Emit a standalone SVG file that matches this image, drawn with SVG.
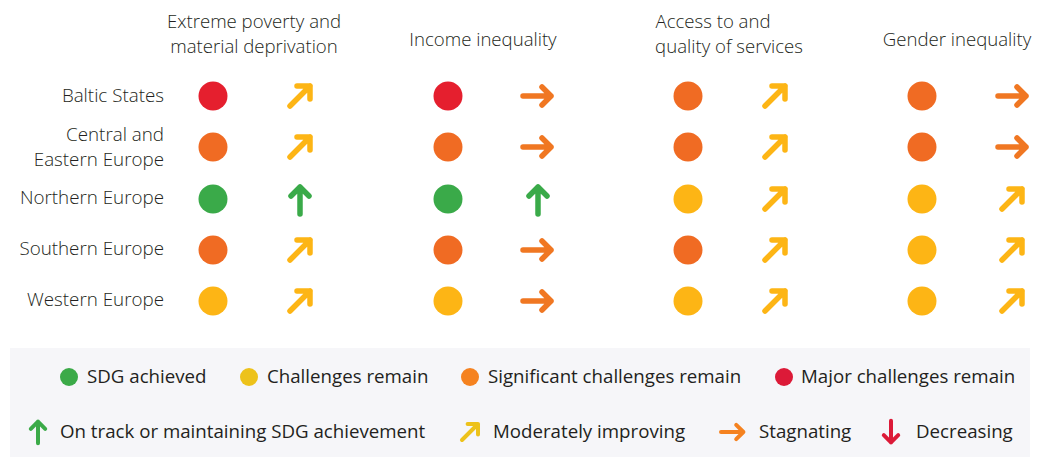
<svg xmlns="http://www.w3.org/2000/svg" xmlns:xlink="http://www.w3.org/1999/xlink" width="1040" height="457" viewBox="0 0 1040 457">
<style>
.h{font-family:"Open Sans","Liberation Sans",sans-serif;font-weight:300;font-size:18.6px;fill:#231f20;text-anchor:middle}
.r{font-family:"Open Sans","Liberation Sans",sans-serif;font-weight:300;font-size:18.8px;fill:#231f20;text-anchor:end}
.l{font-family:"Open Sans","Liberation Sans",sans-serif;font-size:18.7px;fill:#231f20}
.a{fill:none;stroke-width:5.5;stroke-linecap:round;stroke-linejoin:round}
.la{fill:none;stroke-width:5;stroke-linecap:round;stroke-linejoin:round}
.red{fill:#E51F2E}.org{fill:#F06B23}.yel{fill:#FDB515}.grn{fill:#3AAA49}
.ao{stroke:#F07722}.ay{stroke:#FDB515}.ag{stroke:#3AAA49}.ar{stroke:#DC1A38}
</style>
<defs>
<path id="right" d="M-15,0 H13 M4,-9 L13,0 L4,9"/>
<path id="up" d="M0,14 V-13 M-9,-4 L0,-13 L9,-4"/>
<path id="down" d="M0,-14 V13 M-9,4 L0,13 L9,4"/>
<path id="diag" d="M-10,10 L10,-10 M-3,-10 H10 V3"/>
</defs>
<g id="headers">
<text class="h" x="254" y="28">Extreme poverty and</text>
<text class="h" x="254" y="53">material deprivation</text>
<text class="h" x="483" y="46">Income inequality</text>
<text class="h" x="713" y="28">Access to and</text>
<text class="h" x="729" y="53">quality of services</text>
<text class="h" x="957" y="46">Gender inequality</text>
</g>
<g id="row-baltic">
<text class="r" x="164" y="102">Baltic States</text>
<circle class="red" cx="213" cy="96" r="14.5"/>
<use href="#diag" class="a ay" x="300" y="96"/>
<circle class="red" cx="448" cy="96" r="14.5"/>
<use href="#right" class="a ao" x="538" y="96"/>
<circle class="org" cx="688" cy="96" r="14.5"/>
<use href="#diag" class="a ay" x="775" y="96"/>
<circle class="org" cx="922" cy="96" r="14.5"/>
<use href="#right" class="a ao" x="1013" y="96"/>
</g>
<g id="row-cee">
<text class="r" x="164" y="141">Central and</text>
<text class="r" x="164" y="166">Eastern Europe</text>
<circle class="org" cx="213" cy="147" r="14.5"/>
<use href="#diag" class="a ay" x="300" y="147"/>
<circle class="org" cx="448" cy="147" r="14.5"/>
<use href="#right" class="a ao" x="538" y="147"/>
<circle class="org" cx="688" cy="147" r="14.5"/>
<use href="#diag" class="a ay" x="775" y="147"/>
<circle class="org" cx="922" cy="147" r="14.5"/>
<use href="#right" class="a ao" x="1013" y="147"/>
</g>
<g id="row-northern">
<text class="r" x="164" y="204">Northern Europe</text>
<circle class="grn" cx="213" cy="199" r="14.5"/>
<use href="#up" class="a ag" x="300" y="200"/>
<circle class="grn" cx="448" cy="199" r="14.5"/>
<use href="#up" class="a ag" x="538" y="200"/>
<circle class="yel" cx="688" cy="199" r="14.5"/>
<use href="#diag" class="a ay" x="775" y="199"/>
<circle class="yel" cx="922" cy="199" r="14.5"/>
<use href="#diag" class="a ay" x="1012" y="199"/>
</g>
<g id="row-southern">
<text class="r" x="164" y="255">Southern Europe</text>
<circle class="org" cx="213" cy="250" r="14.5"/>
<use href="#diag" class="a ay" x="300" y="250"/>
<circle class="org" cx="448" cy="250" r="14.5"/>
<use href="#right" class="a ao" x="538" y="250"/>
<circle class="org" cx="688" cy="250" r="14.5"/>
<use href="#diag" class="a ay" x="775" y="250"/>
<circle class="yel" cx="922" cy="250" r="14.5"/>
<use href="#diag" class="a ay" x="1012" y="250"/>
</g>
<g id="row-western">
<text class="r" x="164" y="306">Western Europe</text>
<circle class="yel" cx="213" cy="301" r="14.5"/>
<use href="#diag" class="a ay" x="300" y="301"/>
<circle class="yel" cx="448" cy="301" r="14.5"/>
<use href="#right" class="a ao" x="538" y="301"/>
<circle class="yel" cx="688" cy="301" r="14.5"/>
<use href="#diag" class="a ay" x="775" y="301"/>
<circle class="yel" cx="922" cy="301" r="14.5"/>
<use href="#diag" class="a ay" x="1012" y="301"/>
</g>
<g id="legend">
<rect x="10" y="348" width="1020" height="109" fill="#F6F6F9"/>
<circle cx="69" cy="377" r="9" fill="#3BAA48"/>
<text class="l" x="87" y="383">SDG achieved</text>
<circle cx="249" cy="377" r="9" fill="#EDC21B"/>
<text class="l" x="267" y="383">Challenges remain</text>
<circle cx="470" cy="377" r="9" fill="#F58220"/>
<text class="l" x="488" y="383">Significant challenges remain</text>
<circle cx="784" cy="377" r="9" fill="#DC1A38"/>
<text class="l" x="801" y="383">Major challenges remain</text>
<use href="#up" class="la" style="stroke:#3BAA48" transform="translate(38 432) scale(0.8)"/>
<text class="l" x="60" y="438">On track or maintaining SDG achievement</text>
<use href="#diag" class="la" style="stroke:#EDC21B" transform="translate(470 432) scale(0.8)"/>
<text class="l" x="493" y="438">Moderately improving</text>
<use href="#right" class="la" style="stroke:#F58220" transform="translate(733 432) scale(0.8)"/>
<text class="l" x="759" y="438">Stagnating</text>
<use href="#down" class="la" style="stroke:#DC1A38" transform="translate(891 432) scale(0.8)"/>
<text class="l" x="916" y="438">Decreasing</text>
</g>
</svg>
